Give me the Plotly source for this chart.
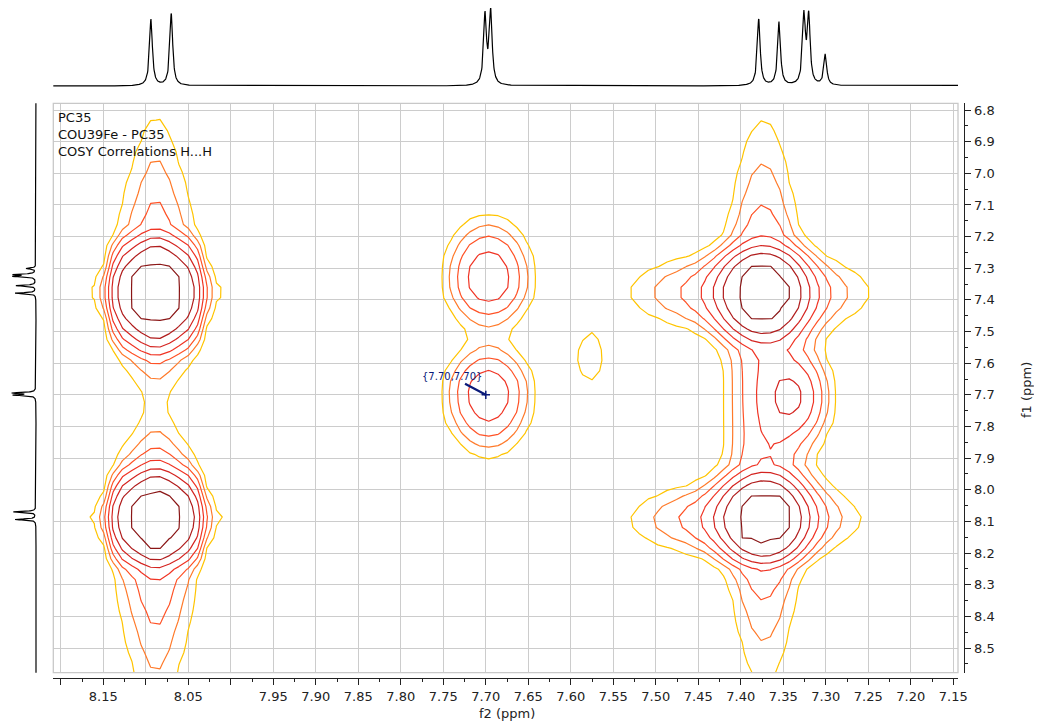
import numpy as np
import plotly.graph_objects as go

# ---------------- 1D proton spectrum (projection) ----------------
peak_ppm = [8.0939, 8.0700, 7.7009, 7.6942, 7.3789, 7.3550, 7.3257, 7.3201, 7.3006]
peak_height = [66.5, 72.2, 69.0, 72.6, 66.6, 63.5, 68.1, 67.0, 31.0]
peak_hwhm = 0.002

# ---------------- 2D COSY components (f2, f1 in ppm) ----------------
comp_f2 = [8.088, 8.088, 8.088, 8.088, 7.697, 7.697, 7.374, 7.390, 7.373, 7.395, 7.336, 7.577, 7.360]
comp_f1 = [7.376, 7.376, 8.090, 8.090, 7.335, 7.695, 7.376, 7.376, 8.094, 8.094, 7.705, 7.585, 7.735]
comp_amp = [1.0, 0.10, 1.0, 0.10, 0.23, 0.23, 0.85, 0.17, 0.85, 0.17, 0.19, 0.065, 0.07]
comp_sx = [0.047, 0.064, 0.047, 0.064, 0.031, 0.031, 0.0283, 0.0886, 0.0283, 0.085, 0.024, 0.018, 0.045]
comp_px = [6, 2, 6, 2, 2, 2, 2, 2, 2, 2, 2, 2, 2]
comp_q = [0.55, 0, 0.55, 0, 0, 0, 0, 0, 0, 0, 0, 0, 0]
comp_sc = [0.018, 1, 0.018, 1, 1, 1, 1, 1, 1, 1, 1, 1, 1]
comp_syu = [0.105, 0.06, 0.095, 0.055, 0.115, 0.091, 0.0896, 0.08, 0.085, 0.075, 0.085, 0.09, 0.2]
comp_syd = [0.105, 0.06, 0.095, 0.055, 0.091, 0.115, 0.0896, 0.08, 0.085, 0.075, 0.085, 0.09, 0.2]
comp_tup = [0.28, 0, 1.0, 0, 0, 0, 0.30, 0, 0.29, 0, 0, 0, 0]
comp_tauup = [0.32, 1, 0.10, 1, 1, 1, 0.33, 1, 0.2, 1, 1, 1, 1]
comp_tdn = [1.0, 0, 0.30, 0, 0, 0, 0.29, 0, 0.28, 0, 0, 0, 0]
comp_taudn = [0.10, 1, 0.35, 1, 1, 1, 0.2, 1, 0.33, 1, 1, 1, 1]

levels = [0.05, 0.075, 0.1125, 0.169, 0.253, 0.38, 0.57]
level_colors = ['#FFC400', '#FF7A2A', '#FF5226', '#F03424', '#D42420', '#B01C1C', '#8A1616']

# ---------------- axes ----------------
x_range = [8.2088, 7.1445]
y_range = [8.578, 6.7788]
x_tick_vals = [8.20, 8.15, 8.10, 8.05, 8.00, 7.95, 7.90, 7.85, 7.80, 7.75, 7.70, 7.65,
               7.60, 7.55, 7.50, 7.45, 7.40, 7.35, 7.30, 7.25, 7.20, 7.15]
x_tick_text = ['', '8.15', '', '8.05', '', '7.95', '7.90', '7.85', '7.80', '7.75', '7.70', '7.65',
               '7.60', '7.55', '7.50', '7.45', '7.40', '7.35', '7.30', '7.25', '7.20', '7.15']
x_minor_vals = [8.175, 8.125, 8.075, 8.025, 7.975, 7.925, 7.875, 7.825, 7.775, 7.725, 7.675,
                7.625, 7.575, 7.525, 7.475, 7.425, 7.375, 7.325, 7.275, 7.225, 7.175]
y_tick_vals = [6.8, 6.9, 7.0, 7.1, 7.2, 7.3, 7.4, 7.5, 7.6, 7.7, 7.8, 7.9, 8.0, 8.1, 8.2, 8.3, 8.4, 8.5]
y_tick_text = ['6.8', '6.9', '7.0', '7.1', '7.2', '7.3', '7.4', '7.5', '7.6', '7.7', '7.8', '7.9',
               '8.0', '8.1', '8.2', '8.3', '8.4', '8.5']
y_minor_vals = [6.85, 6.95, 7.05, 7.15, 7.25, 7.35, 7.45, 7.55, 7.65, 7.75, 7.85, 7.95,
                8.05, 8.15, 8.25, 8.35, 8.45, 8.55]

title_lines = ['PC35', 'COU39Fe - PC35', 'COSY Correlations H...H']
peak_label = '{7.70,7.70}'
peak_label_f2 = 7.70
peak_label_f1 = 7.70

# page has an 8px body margin: the figure starts 8px in from the window's corner
OFF = 8
W, H = 1042 - OFF, 726 - OFF


def px(p):
    return (p - OFF) / W


def py(p):
    return 1 - (p - OFF) / H


# ---------------- build 1D trace ----------------
ppm1d = np.linspace(6.70, 8.70, 6000)
spec = np.zeros_like(ppm1d)
for p, h in zip(peak_ppm, peak_height):
    spec += h / (1.0 + ((ppm1d - p) / peak_hwhm) ** 2)

# ---------------- build 2D field ----------------
xg = np.linspace(7.10, 8.26, 106)
yg = np.linspace(6.70, 8.68, 61)
XX, YY = np.meshgrid(xg, yg)
Z = np.zeros_like(XX)
for i in range(len(comp_f2)):
    dx = XX - comp_f2[i]
    dy = YY - comp_f1[i]
    q = comp_q[i]
    xp = (1 - q) * np.exp(-0.5 * np.abs(dx / comp_sx[i]) ** comp_px[i]) + q * np.exp(-0.5 * (dx / comp_sc[i]) ** 2)
    sy = np.where(dy < 0, comp_syu[i], comp_syd[i])
    core = np.exp(-0.5 * (dy / sy) ** 2)
    tail = np.where(dy < 0, comp_tup[i] * np.exp(-np.abs(dy) / comp_tauup[i]),
                    comp_tdn[i] * np.exp(-np.abs(dy) / comp_taudn[i]))
    yp = np.maximum(core, np.minimum(tail, 1.0))
    Z += comp_amp[i] * xp * yp

Zt = np.interp(Z, [0.0] + levels + [10.0], list(range(0, len(levels) + 1)) + [len(levels) + 1])

n = len(levels)
cscale = [[k / (n - 1), level_colors[k]] for k in range(n)]

fig = go.Figure()
fig.add_trace(go.Contour(
    x=xg, y=yg, z=Zt, xaxis='x', yaxis='y',
    contours=dict(start=1, end=n, size=1, coloring='lines'),
    colorscale=cscale, zmin=1, zmax=n, autocontour=False,
    line=dict(width=1.2, smoothing=0), showscale=False, hoverinfo='skip'))

fig.add_trace(go.Scatter(x=ppm1d, y=spec, xaxis='x2', yaxis='y2', mode='lines',
                         line=dict(color='black', width=1.2), hoverinfo='skip'))
fig.add_trace(go.Scatter(x=spec, y=ppm1d, xaxis='x4', yaxis='y4', mode='lines',
                         line=dict(color='black', width=1.2), hoverinfo='skip'))
fig.add_trace(go.Scatter(x=[peak_label_f2], y=[peak_label_f1], xaxis='x', yaxis='y', mode='markers',
                         marker=dict(symbol='cross-thin', size=6, line=dict(color='#0a1a7a', width=1.5)),
                         hoverinfo='skip'))
fig.add_trace(go.Scatter(x=[None], y=[None], xaxis='x3', yaxis='y3', mode='markers', hoverinfo='skip'))

xdom = [px(53.3), px(958)]
ydom = [py(672.7), py(103.3)]
grid = dict(showgrid=True, gridcolor='#cccccc', gridwidth=1.3, zeroline=False, showline=False,
            ticks='', showticklabels=False, automargin=False)
tickfont = dict(family='DejaVu Sans', size=13, color='#222222')

fig.update_layout(
    width=W, height=H, margin=dict(l=0, r=0, t=0, b=0, pad=0, autoexpand=False), autosize=False,
    plot_bgcolor='white', paper_bgcolor='white', showlegend=False,
    font=dict(family='DejaVu Sans', size=13, color='#222222'),
    xaxis=dict(domain=xdom, range=x_range, anchor='y', tickmode='array', tickvals=x_tick_vals, **grid),
    yaxis=dict(domain=ydom, range=y_range, anchor='x', tickmode='array', tickvals=y_tick_vals, **grid),
    xaxis2=dict(domain=xdom, range=x_range, anchor='y2', visible=False, automargin=False),
    yaxis2=dict(domain=[py(92), py(OFF)], range=[-6, 78], anchor='x2', visible=False, automargin=False),
    xaxis3=dict(overlaying='x', anchor='free', position=py(678), range=x_range,
                tickmode='array', tickvals=x_tick_vals, ticktext=x_tick_text,
                ticks='outside', ticklen=6, tickwidth=1, tickcolor='#222222',
                showline=True, linecolor='#222222', linewidth=1, showgrid=False, zeroline=False,
                tickfont=tickfont, ticklabelstandoff=0, automargin=False,
                minor=dict(tickmode='array', tickvals=x_minor_vals, ticks='outside', ticklen=3,
                           tickcolor='#222222', showgrid=False)),
    yaxis3=dict(overlaying='y', anchor='free', side='right', position=px(963.5), range=y_range,
                tickmode='array', tickvals=y_tick_vals, ticktext=y_tick_text,
                ticks='outside', ticklen=6, tickwidth=1, tickcolor='#222222',
                showline=True, linecolor='#222222', linewidth=1, showgrid=False, zeroline=False,
                tickfont=tickfont, ticklabelstandoff=1, automargin=False,
                minor=dict(tickmode='array', tickvals=y_minor_vals, ticks='outside', ticklen=3,
                           tickcolor='#222222', showgrid=False)),
    xaxis4=dict(domain=[px(OFF), px(48)], range=[89.5, -38.3], anchor='y4', visible=False, automargin=False),
    yaxis4=dict(domain=ydom, range=y_range, anchor='x4', visible=False, automargin=False),
)

fig.add_shape(type='rect', xref='x domain', yref='y domain', x0=0, x1=1, y0=0, y1=1,
              line=dict(color='#c8c8c8', width=1.3))

for k, t in enumerate(title_lines):
    fig.add_annotation(text=t, xref='paper', yref='paper', x=px(56), y=py(117 + 17.5 * k),
                       xanchor='left', yanchor='middle', showarrow=False,
                       font=dict(family='DejaVu Sans', size=13, color='#111111'))

fig.add_annotation(text='f2 (ppm)', xref='paper', yref='paper', x=px(507), y=py(713),
                   xanchor='center', yanchor='middle', showarrow=False,
                   font=dict(family='DejaVu Sans', size=13, color='#222222'))
fig.add_annotation(text='f1 (ppm)', xref='paper', yref='paper', x=px(1026), y=py(390),
                   xanchor='center', yanchor='middle', showarrow=False, textangle=-90,
                   font=dict(family='DejaVu Sans', size=13, color='#222222'))

fig.add_annotation(text=peak_label, x=peak_label_f2, y=peak_label_f1, xref='x', yref='y',
                   ax=-34, ay=-18, showarrow=True, arrowhead=0, arrowwidth=2.2,
                   arrowcolor='#0a1a7a', standoff=0,
                   font=dict(family='DejaVu Sans', size=10, color='#0a1a7a'))

fig.write_html('out.html')
